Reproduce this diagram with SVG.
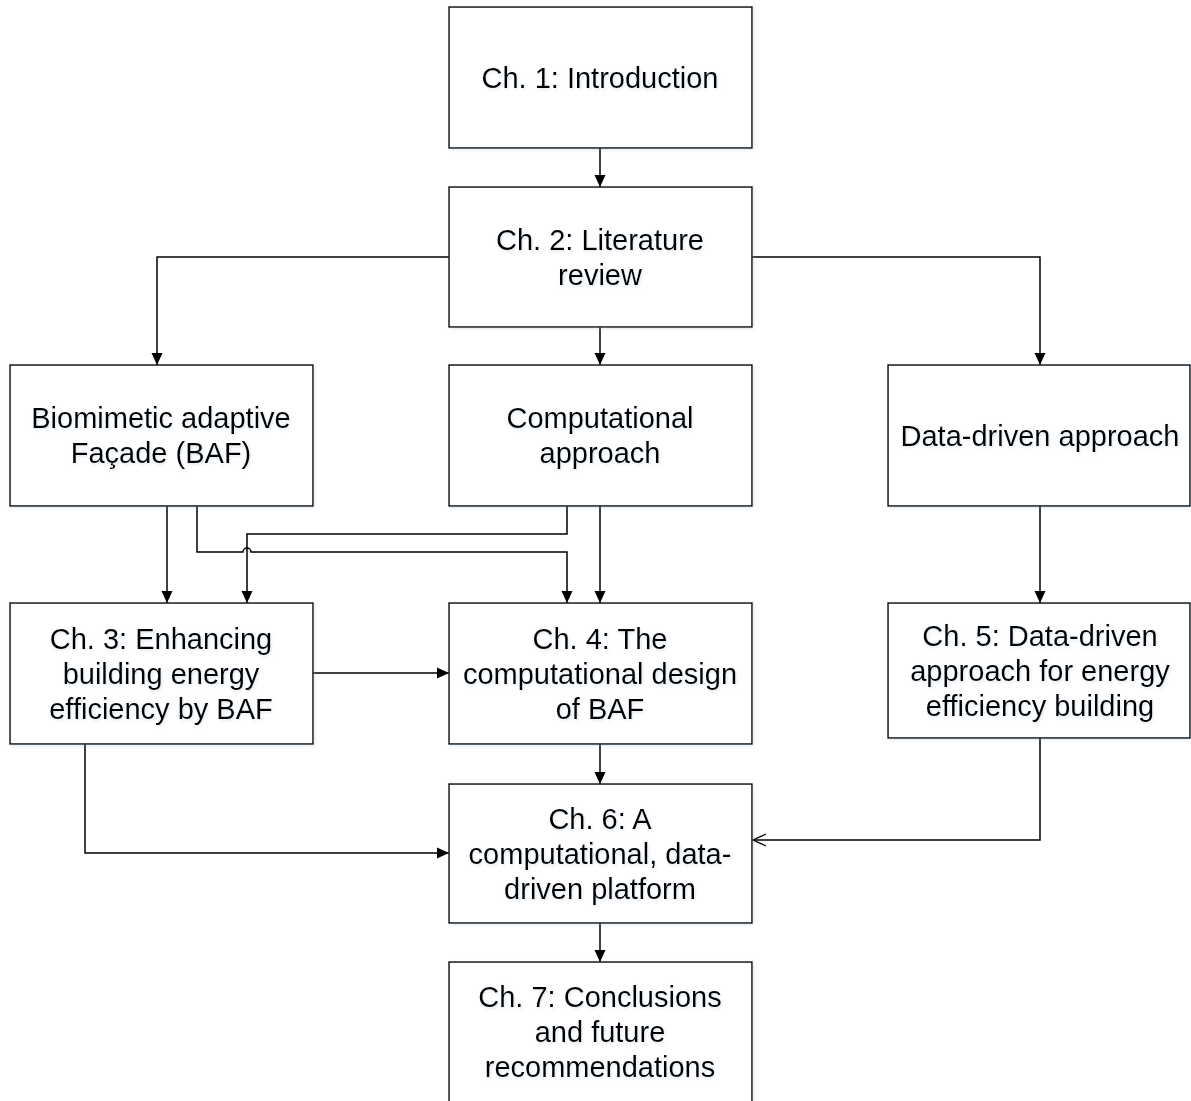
<svg xmlns="http://www.w3.org/2000/svg" width="1191" height="1101" viewBox="0 0 1191 1101">
<style>
.box{fill:#fff;stroke:#000;stroke-width:1.4;filter:url(#sh)}
.t{font-family:"Liberation Sans",Arial,sans-serif;font-size:29px;fill:#000;text-anchor:middle;filter:url(#tsh)}
.c{fill:none;stroke:#000;stroke-width:1.5}
.a{marker-end:url(#ah)}
</style>
<defs>
<filter id="sh" x="-5%" y="-5%" width="110%" height="110%"><feDropShadow dx="1" dy="1" stdDeviation="1.5" flood-color="#8fa8c8" flood-opacity="0.3"/></filter>
<filter id="tsh" x="-5%" y="-20%" width="110%" height="140%"><feDropShadow dx="1" dy="1.5" stdDeviation="1.5" flood-color="#8fa8c8" flood-opacity="0.3"/></filter>
<marker id="ah" markerWidth="13" markerHeight="12" refX="12" refY="6" orient="auto" markerUnits="userSpaceOnUse"><path d="M0,0.5 L12,6 L0,11.5 Z" fill="#000"/></marker>
<marker id="oh" markerWidth="14" markerHeight="14" refX="13" refY="7" orient="auto" markerUnits="userSpaceOnUse"><path d="M0,1 L13,7 L0,13" fill="none" stroke="#000" stroke-width="1.3"/></marker>
</defs>
<rect width="1191" height="1101" fill="#fff"/>
<g id="connectors">
<path class="c a" d="M600,148 V187"/>
<path class="c a" d="M449,257 H157 V365"/>
<path class="c a" d="M600,327 V365"/>
<path class="c a" d="M752,257 H1040 V365"/>
<path class="c a" d="M167,506 V603"/>
<path class="c a" d="M197,506 V552 H243 A4,4 0 0 1 251,552 H567 V603"/>
<path class="c a" d="M567,506 V534 H247 V603"/>
<path class="c a" d="M600,506 V603"/>
<path class="c a" d="M1040,506 V603"/>
<path class="c a" d="M313,673 H449"/>
<path class="c a" d="M600,744 V784"/>
<path class="c a" d="M85,744 V853 H449"/>
<path class="c" style="marker-end:url(#oh)" d="M1040,738 V840 H753"/>
<path class="c a" d="M600,923 V962"/>
</g>
<g id="n1"><rect class="box" x="449" y="7" width="303" height="141"/><text class="t" x="600" y="88">Ch. 1: Introduction</text></g>
<g id="n2"><rect class="box" x="449" y="187" width="303" height="140"/><text class="t" x="600" y="250">Ch. 2: Literature</text><text class="t" x="600" y="285">review</text></g>
<g id="baf"><rect class="box" x="10" y="365" width="303" height="141"/><text class="t" x="161" y="428">Biomimetic adaptive</text><text class="t" x="161" y="463">Façade (BAF)</text></g>
<g id="comp"><rect class="box" x="449" y="365" width="303" height="141"/><text class="t" x="600" y="428">Computational</text><text class="t" x="600" y="463">approach</text></g>
<g id="data"><rect class="box" x="888" y="365" width="302" height="141"/><text class="t" x="1040" y="446">Data-driven approach</text></g>
<g id="n3"><rect class="box" x="10" y="603" width="303" height="141"/><text class="t" x="161" y="649">Ch. 3: Enhancing</text><text class="t" x="161" y="684">building energy</text><text class="t" x="161" y="719">efficiency by BAF</text></g>
<g id="n4"><rect class="box" x="449" y="603" width="303" height="141"/><text class="t" x="600" y="649">Ch. 4: The</text><text class="t" x="600" y="684">computational design</text><text class="t" x="600" y="719">of BAF</text></g>
<g id="n5"><rect class="box" x="888" y="603" width="302" height="135"/><text class="t" x="1040" y="646">Ch. 5: Data-driven</text><text class="t" x="1040" y="681">approach for energy</text><text class="t" x="1040" y="716">efficiency building</text></g>
<g id="n6"><rect class="box" x="449" y="784" width="303" height="139"/><text class="t" x="600" y="829">Ch. 6: A</text><text class="t" x="600" y="864">computational, data-</text><text class="t" x="600" y="899">driven platform</text></g>
<g id="n7"><rect class="box" x="449" y="962" width="303" height="145"/><text class="t" x="600" y="1007">Ch. 7: Conclusions</text><text class="t" x="600" y="1042">and future</text><text class="t" x="600" y="1077">recommendations</text></g>
</svg>
